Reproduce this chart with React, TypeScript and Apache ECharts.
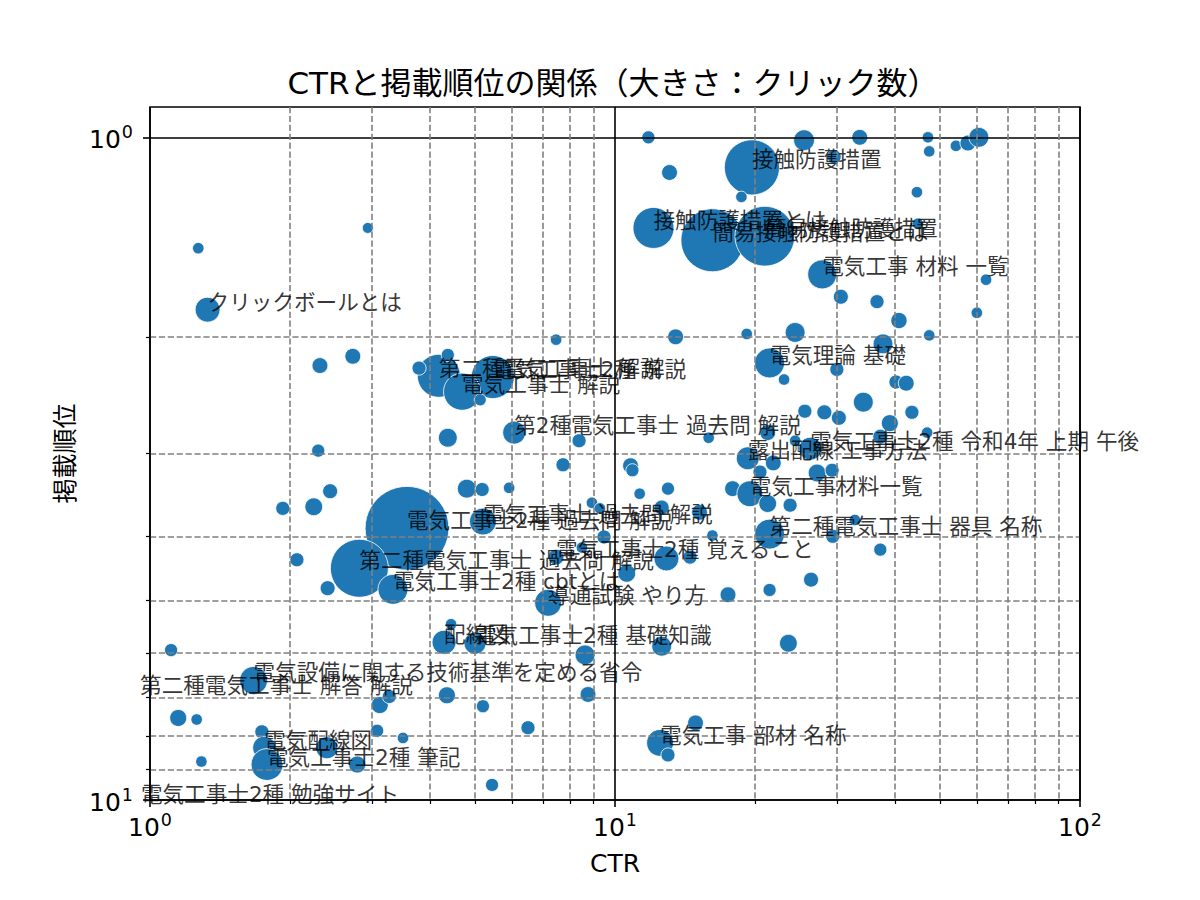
import React, { useEffect, useRef } from "react";
import * as echarts from "echarts";

const titleText = "CTRと掲載順位の関係（大きさ：クリック数）";
const xAxisName = "CTR";
const yAxisName = "掲載順位";

const xRange = [1, 100];
const yRange = [0.9, 10];
const xMajorTicks = [1, 10, 100];
const xMinorTicks = [2, 3, 4, 5, 6, 7, 8, 9, 20, 30, 40, 50, 60, 70, 80, 90];
const yMajorTicks = [1, 10];
const yMinorTicks = [2, 3, 4, 5, 6, 7, 8, 9];

// CTR (%) per keyword
const ctr = [
  11.8, 25.5, 33.6, 47.1, 47.4, 54.1, 57.4, 60.6, 13.1, 19.7,
  18.7, 29.6, 44.6, 44.8, 12.1, 16.2, 21.0, 27.9, 30.6, 36.6,
  40.8, 60.0, 62.8, 24.4, 37.7, 47.4, 19.2, 13.5, 7.47, 21.5,
  23.1, 30.0, 40.2, 42.3, 34.2, 25.6, 28.2, 30.3, 43.5, 39.0,
  37.2, 46.9, 21.3, 6.07, 15.9, 4.37, 8.37, 2.30, 7.73, 10.8,
  4.80, 5.18, 5.92, 11.3, 13.0, 12.6, 15.2, 8.92, 9.28, 9.47,
  16.2, 26.3, 19.3, 20.5, 21.9, 27.2, 29.3, 24.4, 17.9, 19.5,
  21.3, 23.8, 21.5, 29.4, 32.8, 37.2, 26.4, 23.6, 3.57, 5.20,
  7.47, 12.9, 14.5, 8.49, 10.6, 2.82, 3.33, 2.41, 2.07, 1.93,
  2.25, 2.44, 7.18, 17.5, 21.5, 4.29, 5.0, 8.62, 12.6, 4.44,
  8.75, 5.20, 6.50, 5.44, 12.5, 14.9, 13.0, 1.67, 0.952, 1.11,
  1.15, 1.26, 1.29, 1.74, 1.76, 1.785, 2.40, 2.79, 3.12, 3.27,
  3.08, 3.50, 4.35, 0.956, 1.27, 2.94, 1.33, 2.73, 2.32, 4.18,
  5.46, 4.69, 4.37, 3.79, 5.13, 10.9,
];

// average position per keyword
const rank = [
  1.0, 1.01, 1.0, 1.0, 1.05, 1.03, 1.02, 1.0, 1.13, 1.11,
  1.23, 1.07, 1.21, 1.35, 1.37, 1.43, 1.41, 1.61, 1.74, 1.77,
  1.89, 1.84, 1.64, 1.97, 2.05, 1.99, 1.98, 2.0, 2.02, 2.19,
  2.32, 2.24, 2.34, 2.35, 2.51, 2.59, 2.6, 2.65, 2.6, 2.7,
  2.83, 2.79, 2.79, 2.79, 2.84, 2.84, 2.87, 2.97, 3.12, 3.13,
  3.39, 3.4, 3.38, 3.45, 3.39, 3.62, 3.68, 3.56, 3.63, 4.01,
  3.99, 2.95, 3.05, 3.2, 3.1, 3.21, 3.18, 2.87, 3.39, 3.45,
  3.57, 3.59, 3.97, 4.0, 3.78, 4.19, 4.65, 5.8, 3.89, 3.8,
  4.3, 4.32, 4.3, 4.16, 4.55, 4.47, 4.81, 4.79, 4.34, 3.63,
  3.61, 3.42, 5.04, 4.9, 4.82, 5.78, 5.8, 6.04, 5.86, 5.43,
  6.93, 7.22, 7.78, 9.49, 8.2, 7.65, 8.55, 6.6, 6.9, 5.94,
  7.52, 7.56, 8.75, 7.89, 8.34, 8.84, 8.34, 8.84, 7.19, 6.98,
  7.86, 8.06, 6.95, 10.07, 1.47, 1.37, 1.82, 2.14, 2.21, 2.29,
  2.3, 2.42, 2.13, 2.23, 2.49, 3.18,
];

// clicks per keyword (bubble area)
const clicks = [
  1.3, 3.3, 1.9, 1, 1, 1, 1.9, 3, 1.9, 23,
  1, 1.5, 1, 1, 12.7, 30, 27, 6.4, 1.7, 1.5,
  2, 1, 1, 3, 3, 1, 1, 1.9, 1, 6.8,
  1, 1.5, 1.5, 1.9, 3, 1.5, 1.7, 1.7, 1.5, 2.2,
  1.7, 1, 1.9, 4, 1, 2.7, 1.5, 1.3, 1.5, 1.9,
  2.7, 1.5, 1, 1, 1.3, 1.7, 1.9, 1, 1, 1.5,
  1, 4, 4, 1.5, 1.9, 2.4, 1.5, 1, 1.9, 5.1,
  2.4, 1.5, 6.8, 1.5, 1, 1.3, 1.7, 2.4, 53, 5.5,
  1.9, 4.7, 1.5, 1, 2.4, 25.4, 6.8, 1.7, 1.5, 1.5,
  2.4, 1.7, 5.5, 1.9, 1.3, 4.4, 3.7, 3, 3, 1,
  1.9, 1.3, 1.5, 1.3, 5.5, 1.9, 1.5, 5.9, 3, 1.3,
  2.2, 1, 1, 1.5, 4, 7.7, 3.7, 2.2, 2.2, 1.5,
  1.3, 1, 2.2, 5, 1, 0.9, 4.7, 1.9, 1.9, 14,
  14, 10.4, 1.3, 1.5, 1.1, 1.3,
];

// keyword shown next to the bubble ("" = not annotated)
const keywords = [
  "", "", "", "", "", "", "", "", "", "接触防護措置",
  "", "", "", "", "接触防護措置とは", "簡易接触防護措置とは", "簡易接触防護措置", "電気工事 材料 一覧", "", "",
  "", "", "", "", "", "", "", "", "", "電気理論 基礎",
  "", "", "", "", "", "", "", "", "", "",
  "", "", "", "第2種電気工事士 過去問 解説", "", "", "", "", "", "",
  "", "", "", "", "", "", "", "", "", "",
  "", "電気工事士2種 令和4年 上期 午後", "露出配線 工事方法", "", "", "", "", "", "", "電気工事材料一覧",
  "", "", "第二種電気工事士 器具 名称", "", "", "", "", "", "電気工事士2種 過去問 解説", "電気工事士 過去問 解説",
  "電気工事士2種 覚えること", "", "", "", "", "第二種電気工事士 過去問 解説", "電気工事士2種 cbtとは", "", "", "",
  "", "", "導通試験 やり方", "", "", "配線図", "電気工事士2種 基礎知識", "", "", "",
  "", "", "", "", "電気工事 部材 名称", "", "", "電気設備に関する技術基準を定める省令", "第二種電気工事士 解答 解説", "",
  "", "", "", "", "電気配線図", "電気工事士2種 筆記", "", "", "", "",
  "", "", "", "電気工事士2種 勉強サイト", "", "", "クリックボールとは", "", "", "第二種電気工事士 解説",
  "電気工事士2種 解説", "電気工事士 解説", "", "", "", "",
];

const BLUE = "#1f77b4";
const FONT = '"DejaVu Sans", "Noto Sans CJK JP", "Noto Sans CJK SC", sans-serif';
const TICKFONT = '"DejaVu Sans", sans-serif';

const tickFormatter = (v: number) => `{b|10}{s|${Math.round(Math.log10(v))}}`;
const tickRich = {
  b: { fontSize: 25, fontFamily: TICKFONT, color: "#000", verticalAlign: "bottom" },
  s: { fontSize: 17.5, fontFamily: TICKFONT, color: "#000", verticalAlign: "bottom", padding: [0, 0, 11, 1] },
};

const majorSplit = { show: true, lineStyle: { color: "#000", width: 1.6, type: "solid" } };
const minorSplit = { show: true, lineStyle: { color: "#808080", width: 1.6, type: [6.2, 2.7] } };

export default function App() {
  const ref = useRef<HTMLDivElement>(null);
  useEffect(() => {
    document.body.style.margin = "0";
    const chart = echarts.init(ref.current as HTMLDivElement, null, { renderer: "svg" });

    const points = ctr.map((c, i) => [c, rank[i], clicks[i]]);
    const labelled = keywords
      .map((k, i) => [ctr[i], rank[i], k])
      .filter((d) => d[2] !== "");

    const option: any = {
      animation: false,
      backgroundColor: "#fff",
      grid: {
        left: 150,
        right: 120,
        top: 107,
        bottom: 100,
        show: true,
        borderColor: "#000",
        borderWidth: 1.6,
        backgroundColor: "transparent",
      },
      graphic: [
        {
          type: "text",
          x: 613,
          y: 83,
          z: 10,
          style: {
            text: titleText,
            font: `31px ${FONT}`,
            fill: "#000",
            align: "center",
            verticalAlign: "middle",
          },
        },
      ],
      xAxis: [
        {
          type: "log",
          logBase: 10,
          min: xRange[0],
          max: xRange[1],
          position: "bottom",
          z: 3,
          name: xAxisName,
          nameLocation: "middle",
          nameGap: 51,
          nameTextStyle: { fontSize: 25, fontFamily: FONT, color: "#000" },
          axisLine: { show: false },
          axisTick: { show: true, customValues: xMajorTicks, length: 7, lineStyle: { color: "#000", width: 1.6 } },
          axisLabel: { show: true, customValues: xMajorTicks, formatter: tickFormatter, rich: tickRich, margin: 11 },
          splitLine: majorSplit,
        },
        {
          type: "log",
          logBase: 10,
          min: xRange[0],
          max: xRange[1],
          position: "bottom",
          z: 3,
          axisLine: { show: false },
          axisTick: { show: true, customValues: xMinorTicks, length: 4, lineStyle: { color: "#000", width: 1.2 } },
          axisLabel: { show: false },
          splitLine: minorSplit,
        },
      ],
      yAxis: [
        {
          type: "log",
          logBase: 10,
          min: yRange[0],
          max: yRange[1],
          inverse: true,
          position: "left",
          z: 3,
          name: yAxisName,
          nameLocation: "middle",
          nameGap: 72,
          nameTextStyle: { fontSize: 25, fontFamily: FONT, color: "#000" },
          axisLine: { show: false },
          axisTick: { show: true, customValues: yMajorTicks, length: 7, lineStyle: { color: "#000", width: 1.6 } },
          axisLabel: { show: true, customValues: yMajorTicks, formatter: tickFormatter, rich: tickRich, margin: 17 },
          splitLine: majorSplit,
        },
        {
          type: "log",
          logBase: 10,
          min: yRange[0],
          max: yRange[1],
          inverse: true,
          position: "left",
          z: 3,
          axisLine: { show: false },
          axisTick: { show: true, customValues: yMinorTicks, length: 4, lineStyle: { color: "#000", width: 1.2 } },
          axisLabel: { show: false },
          splitLine: minorSplit,
        },
      ],
      series: [
        {
          type: "scatter",
          xAxisIndex: 0,
          yAxisIndex: 0,
          data: points,
          symbolSize: (v: number[]) => Math.sqrt(v[2]) * 11.5,
          itemStyle: { color: BLUE, borderColor: "#fff", borderWidth: 0.8, opacity: 1 },
          clip: true,
          silent: true,
          z: 2,
        },
        {
          type: "scatter",
          xAxisIndex: 0,
          yAxisIndex: 0,
          data: labelled,
          symbolSize: 1,
          itemStyle: { color: "rgba(0,0,0,0)" },
          clip: false,
          silent: true,
          z: 5,
          label: {
            show: true,
            formatter: (p: any) => p.data[2],
            position: "inside",
            align: "left",
            verticalAlign: "middle",
            offset: [0, -7.5],
            fontSize: 21.6,
            fontFamily: FONT,
            color: "#000",
          },
        },
      ],
    };
    chart.setOption(option);
    return () => chart.dispose();
  }, []);
  return <div ref={ref} style={{ width: 1200, height: 900 }} />;
}
